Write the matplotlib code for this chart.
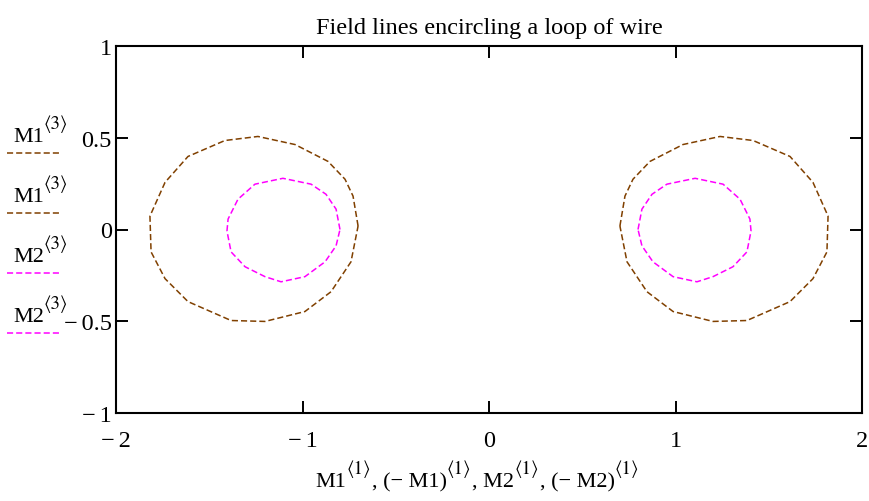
import matplotlib
matplotlib.use("Agg")
import matplotlib.pyplot as plt
from matplotlib.lines import Line2D
import numpy as np

plt.rcParams["font.family"] = ["Liberation Serif", "DejaVu Serif"]

W, H = 869, 502

# outer field line, right-hand wire (M1 columns 1 and 3)
m1_x = [0.702, 0.729, 0.772, 0.863, 1.040, 1.239, 1.416, 1.614, 1.737, 1.818,
        1.812, 1.737, 1.614, 1.383, 1.201, 0.987, 0.847, 0.740, 0.702]
m1_y = [0.019, 0.182, 0.274, 0.371, 0.463, 0.507, 0.485, 0.398, 0.257, 0.073,
        -0.122, -0.268, -0.393, -0.496, -0.501, -0.447, -0.339, -0.176, 0.019]

# inner field line (M2 columns 1 and 3)
m2_x = [0.799, 0.820, 0.874, 0.954, 1.105, 1.255, 1.346, 1.399, 1.405, 1.383,
        1.308, 1.201, 1.115, 0.987, 0.879, 0.820, 0.799]
m2_y = [0.000, 0.111, 0.192, 0.247, 0.279, 0.247, 0.165, 0.057, -0.008, -0.122,
        -0.203, -0.257, -0.285, -0.257, -0.176, -0.089, 0.000]

xticks = [-2, -1, 0, 1, 2]
xtick_labels = ["\u2212\u20062", "\u2212\u20061", "0", "1", "2"]
yticks = [-1, -0.5, 0, 0.5, 1]
ytick_labels = ["\u2212\u20061", "\u2212\u20060.5", "0", "0.5", "1"]

legend_names = ["M1", "M1", "M2", "M2"]
brown = "#804000"
magenta = "#FF00FF"
legend_colors = [brown, brown, magenta, magenta]
dash = (4, 2)


def rich_text(fig, x_px, y_px, pieces, size, center=False):
    # pieces: (text, is_superscript); Mathcad-like big superscripts
    r = fig.canvas.get_renderer()
    arts = []
    x = 0.0
    for txt, sup in pieces:
        fs = size * 0.85 if sup else size
        fam = ["STIXGeneral", "DejaVu Serif"] if sup else ["Liberation Serif", "DejaVu Serif"]
        t = fig.text(0, 0, txt, fontsize=fs, family=fam, va="baseline", ha="left")
        w = t.get_window_extent(r).width
        dy = size * 0.6 * 100 / 72 if sup else 0
        arts.append((t, x, dy))
        x += w + (1 if sup else 0)
    x0 = x_px - x / 2 if center else x_px
    for t, dx, dy in arts:
        t.set_position(((x0 + dx) / W, 1 - (y_px - dy) / H))


fig = plt.figure(figsize=(W / 100, H / 100), dpi=100)
ax = fig.add_axes([116 / W, 1 - 414 / H, 746 / W, 367 / H])

m1x = np.array(m1_x)
m2x = np.array(m2_x)
ax.plot(m1x, m1_y, color=brown, lw=1.1, dashes=dash)
ax.plot(-m1x, m1_y, color=brown, lw=1.1, dashes=dash)
ax.plot(m2x, m2_y, color=magenta, lw=1.1, dashes=dash)
ax.plot(-m2x, m2_y, color=magenta, lw=1.1, dashes=dash)

ax.set_xlim(-2, 2)
ax.set_ylim(-1, 1)
ax.set_xticks(xticks)
ax.set_xticklabels(xtick_labels)
ax.set_yticks(yticks)
ax.set_yticklabels(ytick_labels)
ax.tick_params(direction="in", length=8.5, width=1.4, labelsize=17.5,
               top=True, right=True)
ax.tick_params(axis="x", pad=12)
ax.tick_params(axis="y", pad=3)
for lab in ax.get_yticklabels():
    lab.set_va("center_baseline")
for s in ax.spines.values():
    s.set_linewidth(1.5)

ax.set_title("Field lines encircling a loop of wire", fontsize=17.5, pad=9)

fig.canvas.draw()

# x axis label built from pieces so the superscripts stay large
rich_text(fig, 478, 487, [("M1", False), ("\u27e81\u27e9", True),
                          (", (\u2212 M1)", False), ("\u27e81\u27e9", True),
                          (", M2", False), ("\u27e81\u27e9", True),
                          (", (\u2212 M2)", False), ("\u27e81\u27e9", True)],
          16, center=True)

# legend, Mathcad style: name above a line sample
for i, (name, col) in enumerate(zip(legend_names, legend_colors)):
    base = 142 + i * 60
    rich_text(fig, 13, base, [(name, False), ("\u27e83\u27e9", True)], 16)
    ly = 1 - (base + 12) / H
    fig.add_artist(Line2D([7 / W, 59 / W], [ly, ly], color=col, lw=1.1,
                          dashes=dash, transform=fig.transFigure))

fig.savefig("out.png", dpi=100)
